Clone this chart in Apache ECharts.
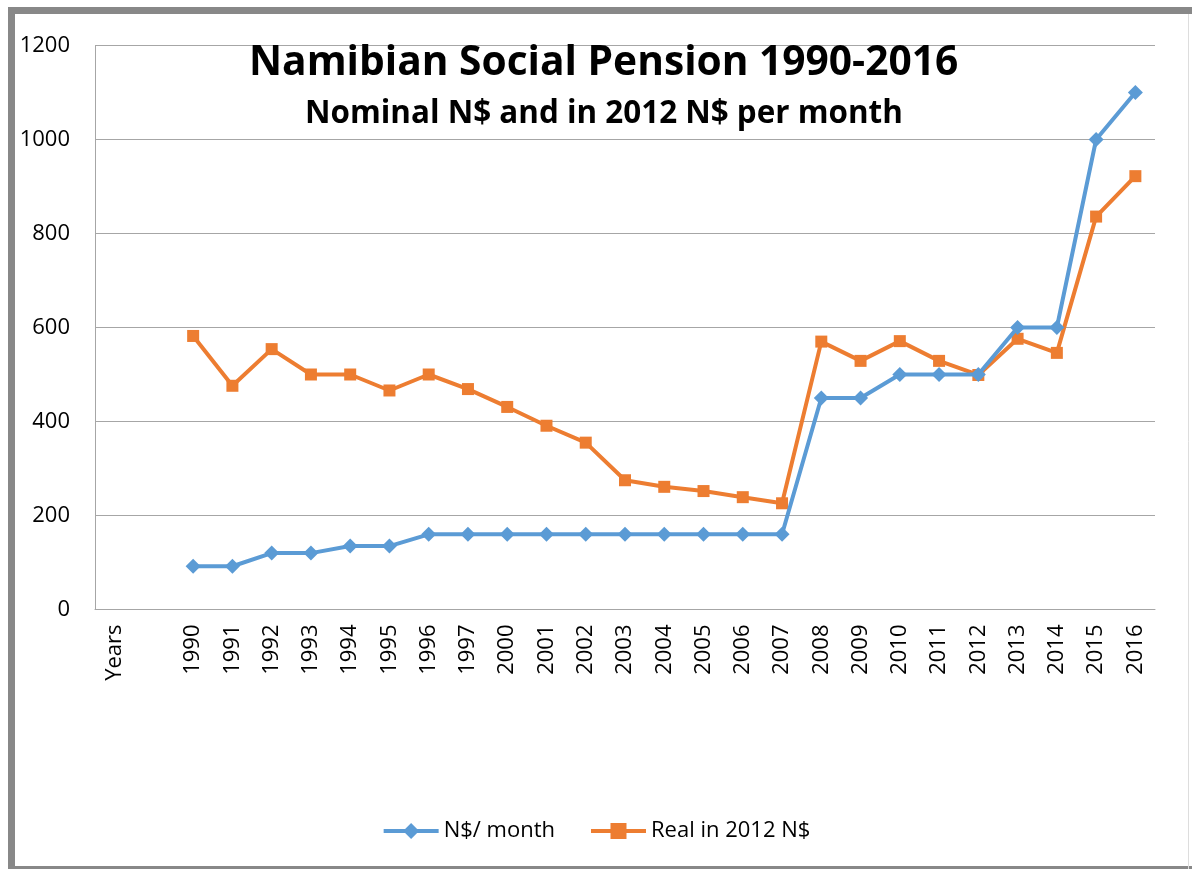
<!DOCTYPE html>
<html>
<head>
<meta charset="utf-8">
<script src="https://cdn.jsdelivr.net/npm/echarts@6/dist/echarts.min.js"></script>
<style>
html,body{margin:0;padding:0;background:#fff;}
#chart{width:1192px;height:869px;}
</style>
</head>
<body>
<div id="chart"></div>
<script>
var categories = ["Years", "", "1990", "1991", "1992", "1993", "1994", "1995", "1996", "1997",
  "2000", "2001", "2002", "2003", "2004", "2005", "2006", "2007", "2008", "2009",
  "2010", "2011", "2012", "2013", "2014", "2015", "2016"];
var nominal = [null, null, 92, 92, 120, 120, 135, 135, 160, 160,
  160, 160, 160, 160, 160, 160, 160, 160, 450, 450,
  500, 500, 500, 600, 600, 1000, 1100];
var real2012 = [null, null, 582, 476, 554, 500, 500, 466, 500, 469,
  431, 391, 355, 275, 261, 252, 239, 226, 570, 529,
  571, 529, 499, 576, 546, 836, 922];
var yTicks = [0, 200, 400, 600, 800, 1000, 1200];

var FONT = "'Open Sans', 'Noto Sans', sans-serif";
var chart = echarts.init(document.getElementById('chart'), null, {renderer: 'canvas'});
chart.setOption({
  backgroundColor: '#ffffff',
  animation: false,
  textStyle: {fontFamily: FONT},
  title: [{
    text: 'Namibian Social Pension 1990-2016',
    left: 244, top: 38,
    textStyle: {fontFamily: FONT, fontWeight: 'bold', fontSize: 40.7, color: '#000'}
  }, {
    text: 'Nominal N$ and in 2012 N$ per month',
    left: 300, top: 94,
    textStyle: {fontFamily: FONT, fontWeight: 'bold', fontSize: 31.4, color: '#000'}
  }],
  graphic: [{
    type: 'rect', silent: true, z: -1,
    shape: {x: 11.5, y: 10.5, width: 1195, height: 859},
    style: {fill: 'none', stroke: '#888888', lineWidth: 7}
  }, {
    type: 'line', silent: true,
    shape: {x1: 1188.5, y1: 14, x2: 1188.5, y2: 869},
    style: {stroke: '#dddddd', lineWidth: 1}
  }],
  grid: {left: 95, right: 37, top: 45.5, bottom: 259.5, containLabel: false},
  legend: {
    bottom: 22, left: 'center',
    itemWidth: 55, itemHeight: 20, itemGap: 34,
    lineStyle: {width: 4},
    textStyle: {fontFamily: FONT, fontSize: 22, color: '#000'},
    data: ['N$/ month', 'Real in 2012 N$']
  },
  xAxis: {
    type: 'category',
    data: categories,
    boundaryGap: true,
    axisLine: {show: true, lineStyle: {color: '#a6a6a6', width: 1}},
    axisTick: {show: false},
    axisLabel: {rotate: 90, interval: 0, margin: 15, fontFamily: FONT, fontSize: 22, color: '#000'}
  },
  yAxis: {
    type: 'value',
    min: yTicks[0], max: yTicks[yTicks.length - 1], interval: 200,
    axisLine: {show: true, lineStyle: {color: '#a6a6a6', width: 1}},
    axisTick: {show: false},
    splitLine: {show: true, lineStyle: {color: '#a6a6a6', width: 1}},
    axisLabel: {margin: 25, fontFamily: FONT, fontSize: 22, color: '#000',
      formatter: function (v) { return String(v); }}
  },
  series: [{
    name: 'N$/ month',
    type: 'line',
    data: nominal,
    symbol: 'diamond', symbolSize: 15,
    lineStyle: {color: '#5b9bd5', width: 4},
    itemStyle: {color: '#5b9bd5'},
    z: 3
  }, {
    name: 'Real in 2012 N$',
    type: 'line',
    data: real2012,
    symbol: 'rect', symbolSize: 12,
    lineStyle: {color: '#ed7d31', width: 4},
    itemStyle: {color: '#ed7d31'},
    z: 2
  }]
});
</script>
</body>
</html>
